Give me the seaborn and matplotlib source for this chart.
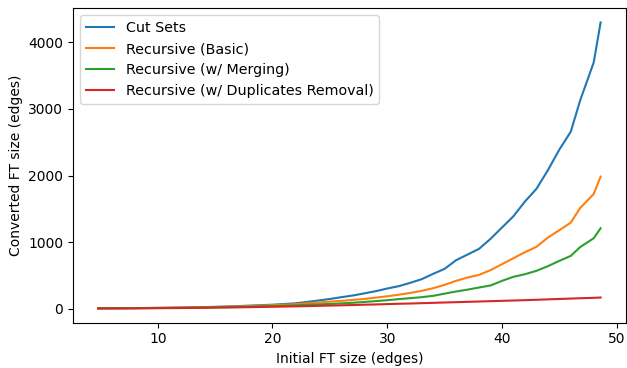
import matplotlib
matplotlib.use("Agg")
import matplotlib.pyplot as plt
import seaborn as sns
import pandas as pd

x_size = [4.8, 6, 7, 8, 9, 10, 11, 12, 13, 14, 15, 16, 17, 18, 19, 20, 21, 22, 23, 24,
          25, 26, 27, 28, 29, 30, 31, 32, 33, 34, 35, 36, 37, 38, 39, 40, 41, 42, 43, 44,
          45, 46, 46.8, 48.0, 48.6]

cut_sets = [8, 9, 10, 11, 12, 14, 16, 19, 22, 26, 30, 35, 41, 48, 55, 62, 72, 83, 103, 125,
            148, 175, 200, 232, 265, 305, 340, 390, 445, 525, 600, 730, 815, 900, 1050, 1220,
            1390, 1610, 1800, 2080, 2390, 2660, 3120, 3700, 4300]

rec_basic = [8, 9, 10, 11, 12, 13, 15, 17, 20, 23, 27, 31, 36, 42, 48, 55, 62, 70, 82, 95,
             108, 120, 134, 148, 168, 188, 212, 238, 270, 310, 360, 420, 470, 510, 580, 670,
             760, 850, 930, 1070, 1180, 1295, 1510, 1725, 1985]

rec_merge = [8, 9, 10, 11, 12, 13, 14, 16, 18, 20, 23, 26, 29, 33, 37, 41, 46, 52, 60, 67,
             74, 82, 91, 103, 116, 130, 146, 160, 175, 195, 228, 260, 288, 320, 350, 420,
             480, 520, 570, 640, 720, 795, 925, 1060, 1210]

rec_dup = [6, 7, 7, 8, 9, 10, 11, 12, 14, 16, 18, 20, 22, 25, 28, 31, 34, 37, 41, 45,
           49, 53, 57, 62, 66, 71, 76, 80, 85, 90, 95, 100, 105, 110, 115, 120, 125, 130,
           136, 142, 148, 154, 159, 165, 170]

series_names = ["Cut Sets", "Recursive (Basic)", "Recursive (w/ Merging)",
                "Recursive (w/ Duplicates Removal)"]
series_values = [cut_sets, rec_basic, rec_merge, rec_dup]

rows = []
for name, vals in zip(series_names, series_values):
    for xv, yv in zip(x_size, vals):
        rows.append({"x": xv, "y": yv, "method": name})
df = pd.DataFrame(rows)

fig, ax = plt.subplots(figsize=(6.27, 3.68), dpi=100)
fig.subplots_adjust(left=0.1164, right=0.998, top=0.978, bottom=0.123)

sns.lineplot(data=df, x="x", y="y", hue="method", hue_order=series_names,
             palette=sns.color_palette("tab10", 4), ax=ax, linewidth=1.5)

ax.set_xlabel("Initial FT size (edges)")
ax.set_ylabel("Converted FT size (edges)")
ax.legend(loc="upper left", title=None, fontsize=10.25)

fig.savefig("out.png", dpi=100)
